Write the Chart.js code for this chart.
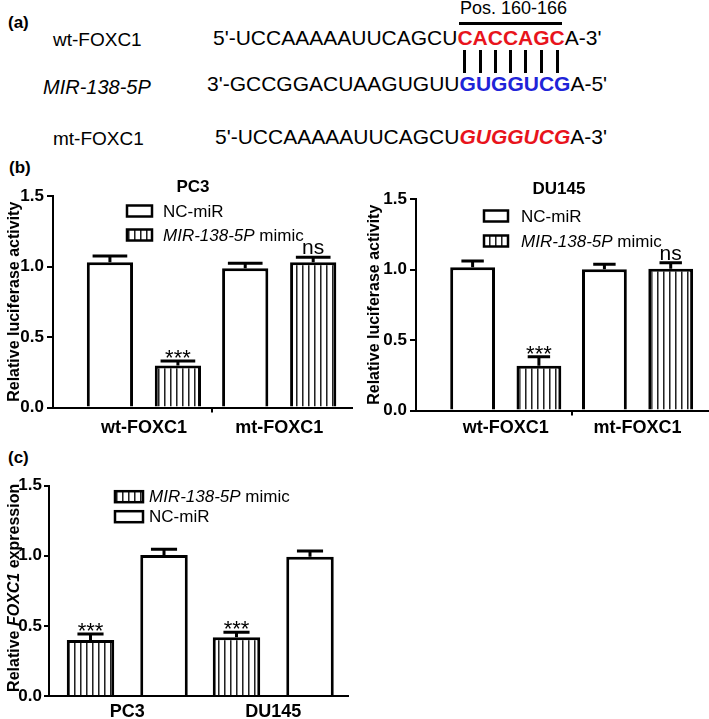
<!DOCTYPE html>
<html><head><meta charset="utf-8">
<script src="https://cdn.jsdelivr.net/npm/chart.js@4.4.1/dist/chart.umd.min.js"></script>
<style>
html,body{margin:0;padding:0;background:#fff;}
body{width:709px;height:719px;position:relative;overflow:hidden;font-family:"Liberation Sans",Arial,sans-serif;color:#000;}
.abs{position:absolute;white-space:nowrap;line-height:1;}
.lab{font-size:19px;}
.seq{font-size:21px;}
.red{color:#e8141c;font-weight:bold;}
.blue{color:#1f24d8;font-weight:bold;}
.panel{font-weight:bold;font-size:17px;}
.bar{position:absolute;background:#000;}
canvas{position:absolute;}
</style></head>
<body>
<div class="abs panel" style="left:8px;top:13.7px">(a)</div>
<div class="abs lab" style="left:53px;top:29.7px">wt-FOXC1</div>
<div class="abs lab" style="left:43px;top:77.2px;font-size:20px;font-style:italic">MIR-138-5P</div>
<div class="abs lab" style="left:53px;top:128.7px">mt-FOXC1</div>
<div class="abs seq" style="left:213px;top:26.7px">5'-UCCAAAAAUUCAGCU<span class="red" id="site">CACCAGC</span>A-3'</div>
<div class="abs seq" style="left:207px;top:72.7px">3'-GCCGGACUAAGUGUU<span class="blue">GUGGUCG</span>A-5'</div>
<div class="abs seq" style="left:215px;top:125.7px">5'-UCCAAAAAUUCAGCU<span class="red" style="font-style:italic">GUGGUCG</span>A-3'</div>
<div class="abs" id="pos" style="left:460px;top:-1.3px;font-size:18px">Pos. 160-166</div>
<div class="abs panel" style="left:9px;top:158.7px">(b)</div>
<div class="abs panel" style="left:8px;top:448.7px">(c)</div>

<canvas id="c1" width="360" height="290" style="left:0;top:160px"></canvas>
<canvas id="c2" width="354" height="290" style="left:355px;top:160px"></canvas>
<canvas id="c3" width="360" height="269" style="left:0;top:450px"></canvas>

<script>
// ---------- data ----------
const yTickValues = [0, 0.5, 1.0, 1.5];
const luciferaseCategories = ['wt-FOXC1', 'mt-FOXC1'];
const expressionCategories = ['PC3', 'DU145'];
const seriesNc = 'NC-miR';
const seriesMimic = 'MIR-138-5P mimic';

const pc3NcMir = [1.03, 0.987];
const pc3NcMirErr = [0.045, 0.036];
const pc3Mimic = [0.297, 1.03];
const pc3MimicErr = [0.033, 0.035];
const pc3Sig = ['***', 'ns'];

const du145NcMir = [1.016, 1.001];
const du145NcMirErr = [0.045, 0.036];
const du145Mimic = [0.318, 1.006];
const du145MimicErr = [0.064, 0.042];
const du145Sig = ['***', 'ns'];

const foxc1Mimic = [0.40, 0.419];
const foxc1MimicErr = [0.042, 0.035];
const foxc1NcMir = [1.006, 0.994];
const foxc1NcMirErr = [0.04, 0.04];
const foxc1Sig = ['***', '***'];

const italicTerms = ['MIR-138-5P', 'FOXC1'];

// ---------- panel (a) pairing lines ----------
(function () {
  const site = document.getElementById('site');
  const letters = site.textContent.split('');
  site.textContent = '';
  const spans = letters.map(ch => { const s = document.createElement('span'); s.textContent = ch; site.appendChild(s); return s; });
  const rects = spans.map(s => s.getBoundingClientRect());
  rects.forEach(r => {
    const d = document.createElement('div'); d.className = 'bar';
    d.style.left = (r.left + r.width / 2 - 1.5) + 'px'; d.style.top = '50px';
    d.style.width = '3px'; d.style.height = '23px';
    document.body.appendChild(d);
  });
  const l = document.createElement('div'); l.className = 'bar';
  l.style.left = (rects[0].left + 2) + 'px'; l.style.top = '22px';
  l.style.width = (rects[rects.length - 1].right - rects[0].left - 5) + 'px'; l.style.height = '3px';
  document.body.appendChild(l);
})();

// ---------- helpers ----------
function splitRich(text) {
  const parts = []; let rest = text;
  while (rest.length) {
    let best = -1, term = null;
    italicTerms.forEach(k => { const i = rest.indexOf(k); if (i >= 0 && (best < 0 || i < best)) { best = i; term = k; } });
    if (best < 0) { parts.push({ t: rest, it: false }); break; }
    if (best > 0) parts.push({ t: rest.slice(0, best), it: false });
    parts.push({ t: term, it: true });
    rest = rest.slice(best + term.length);
  }
  return parts;
}
function drawRich(ctx, text, x, y, weight, size, align) {
  const parts = splitRich(text);
  const fontOf = p => (p.it ? 'italic ' : '') + weight + ' ' + size + 'px "Liberation Sans", Arial, sans-serif';
  let total = 0;
  parts.forEach(p => { ctx.font = fontOf(p); p.w = ctx.measureText(p.t).width; total += p.w; });
  let cx = align === 'center' ? x - total / 2 : x;
  ctx.textAlign = 'left';
  parts.forEach(p => { ctx.font = fontOf(p); ctx.fillText(p.t, cx, y); cx += p.w; });
}
function makePattern(ctx) {
  const c = document.createElement('canvas'); c.width = 6; c.height = 6;
  const g = c.getContext('2d');
  g.fillStyle = '#fff'; g.fillRect(0, 0, 6, 6);
  g.fillStyle = '#222'; g.fillRect(2, 0, 1, 6);
  g.fillStyle = '#888'; g.fillRect(3, 0, 1, 6);
  return ctx.createPattern(c, 'repeat');
}

function decorPlugin(o) {
  return {
    id: 'decor',
    afterDatasetsDraw(chart) {
      const ctx = chart.ctx, ys = chart.scales.y, area = chart.chartArea;
      ctx.save();
      ctx.fillStyle = '#000'; ctx.strokeStyle = '#000';
      chart.data.datasets.forEach((ds, di) => {
        const meta = chart.getDatasetMeta(di);
        meta.data.forEach((bar, i) => {
          const top = ys.getPixelForValue(ds.data[i].y + ds.errors[i]);
          const capW = bar.width * o.capRatio;
          ctx.lineWidth = 3; ctx.lineCap = 'butt';
          ctx.beginPath();
          ctx.moveTo(bar.x, bar.y); ctx.lineTo(bar.x, top);
          ctx.moveTo(bar.x - capW / 2, top); ctx.lineTo(bar.x + capW / 2, top);
          ctx.stroke();
          const mark = ds.marks ? ds.marks[i] : '';
          if (mark) {
            ctx.textAlign = 'center'; ctx.textBaseline = 'alphabetic';
            if (mark === '***') { ctx.font = '22px "Liberation Sans", Arial'; ctx.fillText(mark, bar.x, top + 4); }
            else { ctx.font = '21px "Liberation Sans", Arial'; ctx.fillText(mark, bar.x, top - 3); }
          }
        });
      });
      // legend
      const L = o.legend;
      chart.data.datasets.forEach((ds, di) => {
        const cy = area.top + L.dy[di];
        const bx = area.left + L.dx;
        ctx.fillStyle = ds.backgroundColor;
        ctx.fillRect(bx, cy - L.h / 2, L.w, L.h);
        ctx.lineWidth = 2.5; ctx.strokeStyle = '#000';
        ctx.strokeRect(bx, cy - L.h / 2, L.w, L.h);
        ctx.fillStyle = '#000'; ctx.textBaseline = 'middle';
        drawRich(ctx, ds.label, bx + L.textDx, cy + 1, 'normal', 17, 'left');
      });
      // title
      if (o.title) {
        ctx.fillStyle = '#000'; ctx.textBaseline = 'middle'; ctx.textAlign = 'center';
        ctx.font = 'bold 17px "Liberation Sans", Arial';
        ctx.fillText(o.title.text, area.left + o.title.dx, area.top + o.title.dy);
      }
      // custom y title
      if (o.yTitleRich) {
        ctx.save();
        ctx.translate(o.yTitleRich.x, (area.top + area.bottom) / 2 + o.yTitleRich.dy);
        ctx.rotate(-Math.PI / 2);
        ctx.fillStyle = '#000'; ctx.textBaseline = 'middle';
        drawRich(ctx, o.yTitleRich.text, 0, 0, 'bold', 16, 'center');
        ctx.restore();
      }
      ctx.restore();
    }
  };
}

function makeChart(id, o) {
  const canvas = document.getElementById(id);
  const ctx = canvas.getContext('2d');
  const pattern = makePattern(ctx);
  const tickFont = { family: 'Liberation Sans', weight: 'bold', size: 18 };
  return new Chart(ctx, {
    type: 'bar',
    data: {
      datasets: o.series.map(s => ({
        label: s.label,
        data: s.values.map((v, i) => ({ x: i, y: v })),
        errors: s.errors,
        marks: s.marks,
        backgroundColor: s.hatched ? pattern : '#ffffff',
        borderColor: '#000', borderWidth: 3, borderSkipped: 'start',
        categoryPercentage: o.cp, barPercentage: o.bp
      }))
    },
    options: {
      responsive: false, animation: false, devicePixelRatio: 1,
      layout: { padding: { left: 0, right: o.padRight, top: o.padTop, bottom: 0 } },
      plugins: { legend: { display: false }, tooltip: { enabled: false }, title: { display: false } },
      scales: {
        x: {
          type: 'linear', min: o.xMin, max: o.xMax, offset: false, z: 1,
          afterBuildTicks: s => { s.ticks = o.categories.map((c, i) => ({ value: i })); },
          afterFit: s => { s.height = o.xH; },
          ticks: { autoSkip: false, maxRotation: 0, color: '#000', font: tickFont, padding: o.xPad,
                   callback: v => o.categories[v] !== undefined ? o.categories[v] : '' },
          grid: { display: o.midTick, offset: true, drawOnChartArea: false, drawTicks: o.midTick, tickLength: 5,
                  lineWidth: 2, tickWidth: 2,
                  color: c => c.index === 1 ? '#000' : 'rgba(0,0,0,0)',
                  tickColor: c => c.index === 1 ? '#000' : 'rgba(0,0,0,0)' },
          border: { display: true, color: '#000', width: 2 }
        },
        y: {
          min: 0, max: 1.5,
          afterBuildTicks: s => { s.ticks = yTickValues.map(v => ({ value: v })); },
          afterFit: s => { s.width = o.yW; },
          ticks: { color: '#000', font: { family: 'Liberation Sans', weight: 'bold', size: 17 }, padding: o.yPad,
                   callback: v => Number(v).toFixed(1) },
          grid: { drawOnChartArea: false, tickLength: o.yTick, lineWidth: 2, tickWidth: 2, color: '#000', tickColor: '#000' },
          border: { color: '#000', width: 2 },
          title: o.yTitle ? { display: true, text: o.yTitle, color: '#000',
                   font: { family: 'Liberation Sans', weight: 'bold', size: 16 },
                   padding: { top: o.yTitlePad, bottom: 0 } } : { display: false }
        }
      }
    },
    plugins: [decorPlugin(o)]
  });
}

makeChart('c1', {
  categories: luciferaseCategories,
  series: [
    { label: seriesNc, values: pc3NcMir, errors: pc3NcMirErr, marks: ['', ''], hatched: false },
    { label: seriesMimic, values: pc3Mimic, errors: pc3MimicErr, marks: pc3Sig, hatched: true }
  ],
  cp: 1.005, bp: 0.68, capRatio: 0.75,
  yW: 53, padRight: 8, padTop: 36, xH: 42.5, xMin: -0.672, xMax: 1.538,
  xPad: 4.7, yPad: 3, yTick: 6, midTick: true,
  yTitle: 'Relative luciferase activity', yTitlePad: 5.4,
  title: { text: 'PC3', dx: 140, dy: -9 },
  legend: { dx: 74, dy: [15, 39], w: 25, h: 11, textDx: 36 }
});

makeChart('c2', {
  categories: luciferaseCategories,
  series: [
    { label: seriesNc, values: du145NcMir, errors: du145NcMirErr, marks: ['', ''], hatched: false },
    { label: seriesMimic, values: du145Mimic, errors: du145MimicErr, marks: du145Sig, hatched: true }
  ],
  cp: 1.006, bp: 0.676, capRatio: 0.5,
  yW: 61, padRight: 0, padTop: 39, xH: 39.5, xMin: -0.681, xMax: 1.542,
  xPad: 1.7, yPad: 3, yTick: 6, midTick: true,
  yTitle: 'Relative luciferase activity', yTitlePad: 10.4,
  title: { text: 'DU145', dx: 143, dy: -10 },
  legend: { dx: 68, dy: [17, 42], w: 24, h: 11, textDx: 37 }
});

makeChart('c3', {
  categories: expressionCategories,
  series: [
    { label: seriesMimic, values: foxc1Mimic, errors: foxc1MimicErr, marks: foxc1Sig, hatched: true },
    { label: seriesNc, values: foxc1NcMir, errors: foxc1NcMirErr, marks: ['', ''], hatched: false }
  ],
  cp: 1.007, bp: 0.646, capRatio: 0.55,
  yW: 49, padRight: 12, padTop: 35.7, xH: 23, xMin: -0.536, xMax: 1.512,
  xPad: 5.2, yPad: 2, yTick: 5, midTick: false,
  yTitle: null,
  yTitleRich: { text: 'Relative FOXC1 expression', x: 15, dy: -3 },
  legend: { dx: 66, dy: [11, 31], w: 28, h: 11, textDx: 34 }
});
</script>
</body></html>
